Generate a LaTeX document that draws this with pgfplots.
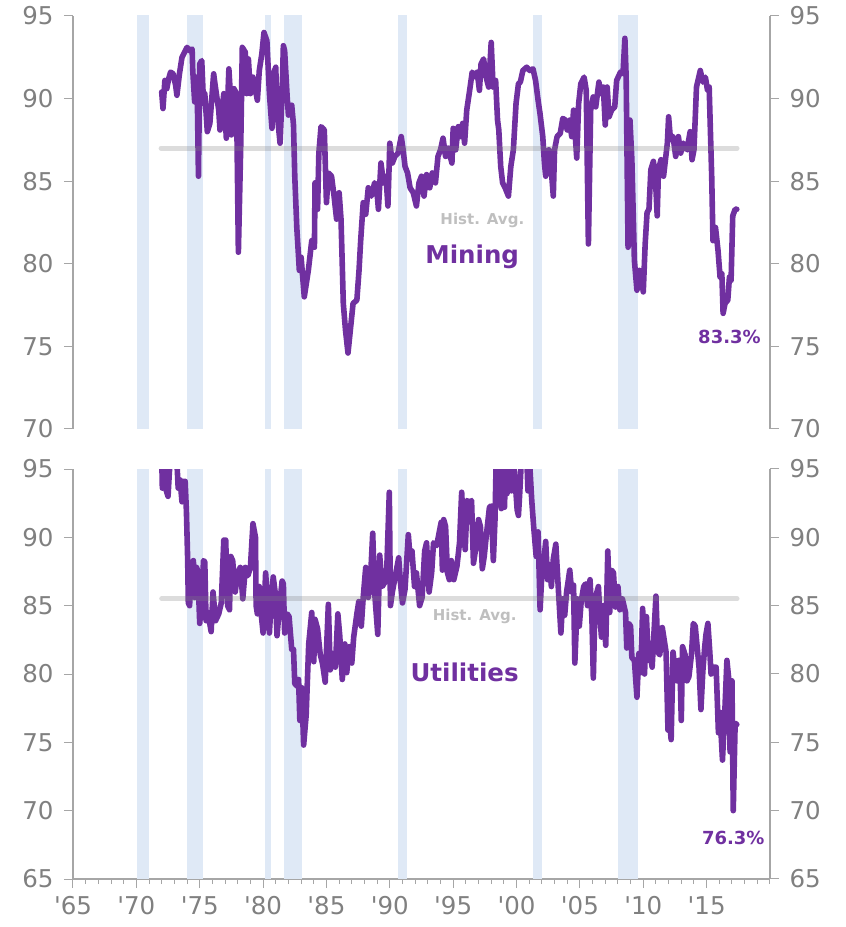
\documentclass[border=0pt]{standalone}
\usepackage{fontspec}
\setmainfont{DejaVu Sans}
\usepackage{pgfplots}
\pgfplotsset{compat=1.18}
\definecolor{ser}{HTML}{7030A0}
\definecolor{band}{HTML}{DFE9F6}
\definecolor{axgray}{HTML}{A6A6A6}
\definecolor{lblgray}{HTML}{808080}
\definecolor{avglbl}{HTML}{BFBFBF}
\pgfplotsset{
  base/.style={
    scale only axis, width=697pt,
    xmin=1965, xmax=2020,
    tick align=outside,
    major tick length=9pt, minor tick length=5pt,
    tick style={axgray, line width=1pt},
    axis line style={axgray, line width=1.2pt},
    tick label style={font=\fontsize{24.5}{26}\selectfont, text=lblgray},
    /pgf/number format/assume math mode=true,
    yticklabel shift=7pt,
    xticklabel shift=5pt,
  },
  bandp/.style={fill=band, draw=none, forget plot},
  serp/.style={ser, line width=5.6pt, line join=round, line cap=round},
  avgp/.style={black!50, opacity=0.28, line width=5pt, line cap=round},
}
\begin{document}
\begin{tikzpicture}
% ---------------- bottom panel: Utilities ----------------
\begin{axis}[base, at={(0pt,0pt)}, anchor=south west, height=410pt,
  ymin=65, ymax=95, ytick={65,70,...,95},
  axis x line*=bottom, axis y line*=left,
  xtick={1965,1970,...,2015},
  xticklabels={\textquotesingle65,\textquotesingle70,\textquotesingle75,\textquotesingle80,\textquotesingle85,\textquotesingle90,\textquotesingle95,\textquotesingle00,\textquotesingle05,\textquotesingle10,\textquotesingle15},
  minor xtick={1966,1967,...,2020}]
\addplot[bandp] coordinates {(1970.05,100) (1971.0,100)} \closedcycle;
\addplot[bandp] coordinates {(1973.97,100) (1975.28,100)} \closedcycle;
\addplot[bandp] coordinates {(1980.15,100) (1980.6,100)} \closedcycle;
\addplot[bandp] coordinates {(1981.65,100) (1983.05,100)} \closedcycle;
\addplot[bandp] coordinates {(1990.67,100) (1991.33,100)} \closedcycle;
\addplot[bandp] coordinates {(2001.33,100) (2002.0,100)} \closedcycle;
\addplot[bandp] coordinates {(2008.04,100) (2009.6,100)} \closedcycle;
\addplot[serp] coordinates {
(1972.00,96) (1972.05,93.6) (1972.15,95.5) (1972.30,93.6) (1972.50,93.0) (1972.60,94.7) (1972.70,96) (1973.00,96) (1973.20,95.5) (1973.30,93.6) (1973.45,94.2) (1973.60,92.6) (1973.70,94.1) (1973.85,94.1) (1973.95,91.9)
(1974.05,88.3) (1974.10,85.2) (1974.20,85.0) (1974.35,87.8) (1974.50,88.3) (1974.60,85.6) (1974.75,87.8) (1974.85,87.5) (1975.00,83.7) (1975.15,85.5) (1975.30,88.3) (1975.40,88.2) (1975.50,83.9) (1975.65,84.5) (1975.90,83.1)
(1976.05,86.0) (1976.25,83.9) (1976.50,84.4) (1976.70,85.2) (1976.90,89.8) (1977.05,89.8) (1977.20,85.0) (1977.35,84.7) (1977.45,88.6) (1977.60,88.3) (1977.80,86.0) (1978.00,87.4) (1978.20,87.8) (1978.40,85.5) (1978.60,87.8) (1978.80,87.2)
(1979.00,87.8) (1979.20,91.0) (1979.40,90.0) (1979.45,85.0) (1979.55,84.4) (1979.70,86.4) (1979.85,84.4) (1980.00,83.0) (1980.20,87.4) (1980.30,86.0) (1980.50,83.0) (1980.65,85.6) (1980.80,87.1) (1980.95,86.0) (1981.10,82.8) (1981.30,85.0) (1981.50,86.8) (1981.60,86.6) (1981.70,83.0) (1981.90,84.4)
(1982.05,84.2) (1982.26,81.8) (1982.40,81.8) (1982.50,79.3) (1982.70,79.1) (1982.80,79.6) (1982.90,76.6) (1983.05,79.0) (1983.20,74.8) (1983.40,77.0) (1983.60,82.2) (1983.84,84.5) (1984.00,80.9) (1984.10,84.0) (1984.30,83.3) (1984.50,81.5) (1984.70,80.7) (1984.90,79.4)
(1985.15,85.1) (1985.30,80.3) (1985.50,81.5) (1985.70,80.5) (1985.90,84.4) (1986.05,82.8) (1986.25,79.6) (1986.45,82.2) (1986.60,80.1) (1986.80,82.0) (1987.00,80.8) (1987.15,82.7) (1987.40,84.4) (1987.55,85.3) (1987.75,83.5) (1987.90,85.6)
(1988.10,87.8) (1988.30,85.6) (1988.45,86.5) (1988.65,90.3) (1988.80,86.0) (1989.05,82.9) (1989.20,88.7) (1989.40,86.4) (1989.60,86.7) (1989.75,87.4) (1989.96,93.3) (1990.05,85.0) (1990.20,86.0) (1990.40,87.0) (1990.70,88.5) (1990.85,86.6)
(1991.00,85.2) (1991.20,86.2) (1991.46,90.2) (1991.60,88.5) (1991.75,89.0) (1991.95,86.4) (1992.10,87.4) (1992.35,85.0) (1992.55,85.6) (1992.75,89.0) (1992.90,89.6) (1993.10,86.0) (1993.30,87.4) (1993.45,89.6) (1993.70,89.4)
(1994.05,91.1) (1994.15,87.6) (1994.25,91.3) (1994.40,90.8) (1994.55,87.4) (1994.70,86.9) (1994.85,88.3) (1995.05,86.9) (1995.30,87.9) (1995.50,89.6) (1995.67,93.3) (1995.80,90.8) (1995.95,89.1)
(1996.10,92.7) (1996.30,92.5) (1996.45,92.7) (1996.60,88.1) (1996.80,89.3) (1997.00,91.3) (1997.15,90.8) (1997.30,87.7) (1997.45,88.6) (1997.60,90.0) (1997.86,92.2) (1998.00,92.3) (1998.17,88.3) (1998.30,91.3) (1998.40,96) (1998.65,96) (1998.80,92.1) (1998.90,92.7)
(1999.05,92.2) (1999.15,96) (1999.25,93.2) (1999.40,96) (1999.60,93.4) (1999.75,96) (2000.05,92.0) (2000.15,91.6) (2000.25,93.2) (2000.40,96) (2000.80,96) (2000.90,93.4) (2001.00,96) (2001.20,92.7) (2001.35,90.8) (2001.55,88.6) (2001.70,90.4) (2001.86,84.7)
(2002.00,87.4) (2002.15,88.2) (2002.30,89.7) (2002.45,86.9) (2002.60,88.0) (2002.75,86.4) (2002.90,88.4) (2003.10,89.5) (2003.30,86.2) (2003.50,83.0) (2003.65,85.5) (2003.80,84.3) (2003.95,86.0) (2004.20,87.6) (2004.35,86.0) (2004.50,86.5) (2004.60,80.8) (2004.80,85.5) (2004.95,83.5)
(2005.10,85.3) (2005.30,86.4) (2005.45,86.6) (2005.60,85.0) (2005.80,86.9) (2005.95,84.0) (2006.06,79.7) (2006.20,85.5) (2006.46,86.4) (2006.60,84.0) (2006.70,82.7) (2006.85,85.0) (2007.04,82.1) (2007.20,89.0) (2007.35,84.5) (2007.50,87.6) (2007.65,87.4) (2007.80,84.9)
(2008.00,86.4) (2008.15,84.7) (2008.35,85.5) (2008.60,84.5) (2008.70,81.9) (2008.85,83.7) (2009.00,83.5) (2009.10,81.2) (2009.30,81.0) (2009.50,78.3) (2009.65,81.5) (2009.80,80.1) (2009.95,84.8)
(2010.10,80.0) (2010.25,84.2) (2010.40,81.0) (2010.55,81.5) (2010.70,80.5) (2011.00,85.7) (2011.15,81.6) (2011.30,81.4) (2011.50,83.4) (2011.65,82.5) (2011.80,81.6) (2011.95,75.9) (2012.10,76.3) (2012.20,75.2) (2012.35,81.6) (2012.50,80.3) (2012.65,79.5) (2012.80,81.0) (2012.90,80.3)
(2013.00,76.6) (2013.10,82.0) (2013.30,81.4) (2013.45,79.5) (2013.60,79.8) (2013.80,81.4) (2013.95,83.7) (2014.10,83.5) (2014.25,82.0) (2014.40,80.5) (2014.55,77.4) (2014.70,80.2) (2014.85,82.0) (2014.95,82.9)
(2015.10,83.7) (2015.25,81.6) (2015.35,80.0) (2015.55,80.5) (2015.75,80.5) (2015.93,75.7) (2016.05,77.2) (2016.25,73.7) (2016.45,77.6) (2016.60,81.0) (2016.75,79.6) (2016.85,74.3) (2017.00,79.5) (2017.10,70.0) (2017.25,76.4) (2017.38,76.3)
};
\addplot[avgp] coordinates {(1972.0,85.5) (2017.4,85.5)};
\node[font=\bfseries\fontsize{15}{15}\selectfont, text=avglbl] at (axis cs:1996.7,84.2) {Hist. Avg.};
\node[font=\bfseries\fontsize{24.5}{24.5}\selectfont, text=ser] at (axis cs:1995.9,80.15) {Utilities};
\node[font=\bfseries\fontsize{18}{18}\selectfont, text=ser] at (axis cs:2017.1,68.0) {76.3\%};
\end{axis}
\begin{axis}[base, at={(0pt,0pt)}, anchor=south west, height=410pt,
  ymin=65, ymax=95, ytick={65,70,...,95},
  axis x line=none, axis y line*=right]
\end{axis}
% ---------------- top panel: Mining ----------------
\begin{axis}[base, at={(0pt,450pt)}, anchor=south west, height=413pt,
  ymin=70, ymax=95, ytick={70,75,...,95},
  axis x line=none, axis y line*=left]
\addplot[bandp] coordinates {(1970.05,100) (1971.0,100)} \closedcycle;
\addplot[bandp] coordinates {(1973.97,100) (1975.28,100)} \closedcycle;
\addplot[bandp] coordinates {(1980.15,100) (1980.6,100)} \closedcycle;
\addplot[bandp] coordinates {(1981.65,100) (1983.05,100)} \closedcycle;
\addplot[bandp] coordinates {(1990.67,100) (1991.33,100)} \closedcycle;
\addplot[bandp] coordinates {(2001.33,100) (2002.0,100)} \closedcycle;
\addplot[bandp] coordinates {(2008.04,100) (2009.6,100)} \closedcycle;
\addplot[serp] coordinates {
(1972.00,90.4) (1972.10,89.4) (1972.25,91.1) (1972.40,90.6) (1972.55,91.2) (1972.70,91.6) (1972.90,91.5) (1973.10,90.8) (1973.20,90.2) (1973.40,91.5) (1973.60,92.5) (1973.80,92.8)
(1974.00,93.1) (1974.20,92.9) (1974.40,93.0) (1974.45,91.7) (1974.60,89.8) (1974.70,91.3) (1974.80,90.6) (1974.90,85.3) (1975.00,92.1) (1975.16,92.3) (1975.30,89.7) (1975.40,90.3) (1975.60,88.0) (1975.80,88.5)
(1976.10,91.5) (1976.20,90.9) (1976.50,89.3) (1976.60,88.1) (1976.90,90.3) (1977.10,87.6) (1977.30,91.8) (1977.40,90.5) (1977.50,87.8) (1977.70,90.6) (1977.90,90.3) (1978.05,80.7) (1978.24,87.3) (1978.36,93.1) (1978.60,92.8) (1978.70,90.3) (1978.84,92.4)
(1979.00,90.3) (1979.20,91.3) (1979.55,89.9) (1979.70,91.7) (1979.90,92.7) (1980.07,94.0) (1980.30,93.5) (1980.50,90.3) (1980.70,88.2) (1980.86,91.6) (1981.00,91.9) (1981.10,89.2) (1981.34,87.3) (1981.50,90.3) (1981.60,93.2) (1981.70,92.9) (1981.90,90.1)
(1982.00,89.0) (1982.26,89.6) (1982.40,88.4) (1982.50,85.3) (1982.66,82.2) (1982.86,79.6) (1983.00,80.4) (1983.25,78.0) (1983.57,79.6) (1983.84,81.4) (1984.05,81.0) (1984.10,84.9) (1984.30,83.3) (1984.40,86.7) (1984.57,88.3) (1984.83,88.1)
(1985.00,83.7) (1985.15,85.5) (1985.40,85.3) (1985.60,84.1) (1985.80,82.7) (1986.00,84.3) (1986.15,82.7) (1986.33,77.6) (1986.50,76.0) (1986.70,74.6) (1986.90,76.1) (1987.10,77.6) (1987.40,77.8) (1987.57,79.6) (1987.70,81.4) (1987.90,83.7)
(1988.10,83.0) (1988.30,84.6) (1988.55,84.1) (1988.80,84.9) (1988.95,84.7) (1989.10,83.3) (1989.30,86.1) (1989.50,84.9) (1989.70,85.3) (1989.85,83.5) (1990.00,87.3) (1990.20,86.1) (1990.40,86.5) (1990.65,86.7) (1990.90,87.7)
(1991.05,86.9) (1991.20,85.9) (1991.40,85.5) (1991.60,84.6) (1991.85,84.3) (1992.10,83.5) (1992.30,84.9) (1992.50,85.3) (1992.70,84.1) (1992.90,85.4) (1993.15,84.6) (1993.35,85.5) (1993.60,84.9) (1993.80,86.5)
(1994.00,86.9) (1994.20,87.6) (1994.40,86.5) (1994.60,87.0) (1994.90,86.1) (1995.00,88.2) (1995.20,86.9) (1995.40,88.3) (1995.55,87.7) (1995.75,88.5) (1995.90,87.3) (1996.07,89.3) (1996.30,90.5) (1996.50,91.6) (1996.75,91.3) (1996.90,91.6)
(1997.07,90.5) (1997.20,92.1) (1997.40,92.4) (1997.60,91.3) (1997.80,90.7) (1998.00,93.4) (1998.15,90.7) (1998.35,91.1) (1998.50,88.7) (1998.60,88.1) (1998.75,85.9) (1998.90,84.9) (1999.10,84.6) (1999.36,84.1) (1999.55,85.9) (1999.75,86.9) (1999.96,89.7)
(2000.15,90.9) (2000.30,91.0) (2000.50,91.7) (2000.80,91.9) (2001.05,91.7) (2001.30,91.8) (2001.50,91.1) (2001.70,89.9) (2001.85,89.1) (2002.07,87.7) (2002.20,86.1) (2002.30,85.3) (2002.40,86.3) (2002.55,86.9) (2002.70,86.1) (2002.90,84.1)
(2003.00,86.9) (2003.20,87.7) (2003.45,87.9) (2003.65,88.8) (2003.85,88.7) (2004.00,88.1) (2004.20,88.7) (2004.35,87.7) (2004.50,89.3) (2004.75,86.4) (2004.90,89.7) (2005.07,90.9) (2005.33,91.3) (2005.50,90.5) (2005.67,81.2) (2005.85,89.3)
(2006.05,90.1) (2006.25,89.5) (2006.50,91.0) (2006.65,90.3) (2006.85,90.7) (2007.00,88.4) (2007.15,90.7) (2007.30,88.9) (2007.50,89.3) (2007.75,89.5) (2007.90,91.1) (2008.20,91.6) (2008.40,91.5) (2008.55,93.65) (2008.65,91.3) (2008.80,81.0) (2008.95,88.7)
(2009.10,86.3) (2009.30,80.2) (2009.50,78.4) (2009.70,79.6) (2009.85,79.2) (2010.00,78.3) (2010.15,81.2) (2010.30,83.1) (2010.45,83.3) (2010.60,85.7) (2010.80,86.2) (2010.95,85.3) (2011.10,82.9) (2011.20,85.7) (2011.40,86.3) (2011.60,85.3) (2011.75,86.3) (2011.90,87.3)
(2012.00,88.9) (2012.15,87.5) (2012.35,87.7) (2012.56,86.5) (2012.77,87.7) (2012.95,86.7) (2013.17,87.3) (2013.45,86.9) (2013.70,88.0) (2013.85,86.3) (2014.00,86.9) (2014.20,90.7) (2014.50,91.7) (2014.70,91.0) (2014.90,91.3)
(2015.07,90.5) (2015.20,90.7) (2015.40,85.3) (2015.50,81.4) (2015.70,82.2) (2015.90,80.8) (2016.06,79.2) (2016.20,79.4) (2016.30,77.0) (2016.45,77.6) (2016.67,77.8) (2016.80,79.2) (2016.93,79.0) (2017.06,82.9) (2017.25,83.3) (2017.38,83.3)
};
\addplot[avgp] coordinates {(1971.95,87.0) (2017.4,87.0)};
\node[font=\bfseries\fontsize{15}{15}\selectfont, text=avglbl] at (axis cs:1997.3,82.65) {Hist. Avg.};
\node[font=\bfseries\fontsize{24.5}{24.5}\selectfont, text=ser] at (axis cs:1996.5,80.4) {Mining};
\node[font=\bfseries\fontsize{18}{18}\selectfont, text=ser] at (axis cs:2016.8,75.6) {83.3\%};
\end{axis}
\begin{axis}[base, at={(0pt,450pt)}, anchor=south west, height=413pt,
  ymin=70, ymax=95, ytick={70,75,...,95},
  axis x line=none, axis y line*=right]
\end{axis}
\pgfresetboundingbox
\path (-73pt,-48pt) rectangle (773pt,879pt);
\end{tikzpicture}
\end{document}
